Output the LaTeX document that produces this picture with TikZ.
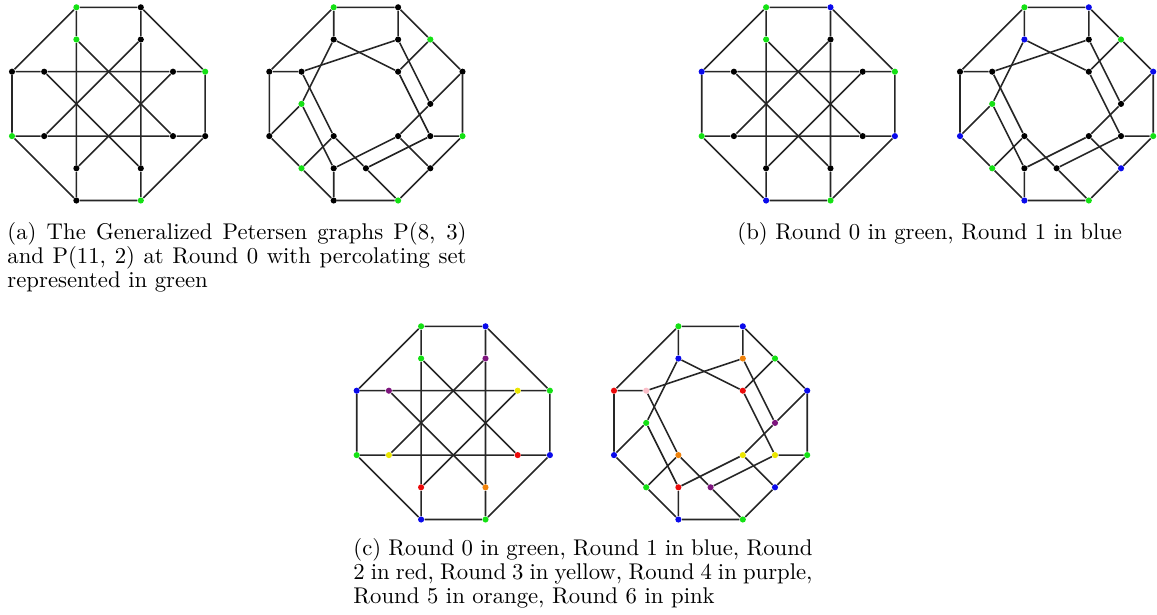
\documentclass[tikz,border=0pt]{standalone}
\usepackage{tikz}
\usepackage{amsmath,amssymb}

\definecolor{rgreen}{RGB}{20,225,20}
\definecolor{rblue}{RGB}{10,10,235}
\definecolor{rred}{RGB}{235,10,10}
\definecolor{ryellow}{RGB}{235,230,0}
\definecolor{rpurple}{RGB}{125,20,125}
\definecolor{rorange}{RGB}{240,130,10}
\definecolor{rpink}{RGB}{250,190,200}

\begin{document}
\begin{tikzpicture}[x=0.44pt,y=0.44pt,yscale=-1,xscale=1,
  vtx/.style={circle,fill=#1,inner sep=0pt,minimum size=2.7pt},
  edge/.style={draw=black!85,line width=0.7pt},
  captext/.style={anchor=base west,inner sep=0pt,font=\fontsize{10}{10.7}\selectfont}]
\useasboundingbox (0,0) rectangle (1157,615);

%P(8,3) at Round 0
\foreach \k/\x/\y/\c in {0/2/0/rgreen,1/4/0/black,2/6/2/rgreen,3/6/4/black,4/4/6/rgreen,5/2/6/black,6/0/4/rgreen,7/0/2/black}
  \node[vtx=\c] (pa-o\k) at ({12+32.2*\x},{7.3+32.2*\y}) {};
\foreach \k/\x/\y/\c in {0/2/1/rgreen,1/4/1/black,2/5/2/black,3/5/4/black,4/4/5/black,5/2/5/black,6/1/4/black,7/1/2/black}
  \node[vtx=\c] (pa-i\k) at ({12+32.2*\x},{7.3+32.2*\y}) {};
%P(11,2) at Round 0
\foreach \k/\x/\y/\c in {0/2/0/rgreen,1/4/0/black,2/5/1/rgreen,3/6/2/black,4/6/4/rgreen,5/5/5/black,6/4/6/rgreen,7/2/6/black,8/1/5/rgreen,9/0/4/black,10/0/2/black}
  \node[vtx=\c] (qa-o\k) at ({269.3+32.2*\x},{7.3+32.2*\y}) {};
\foreach \k/\x/\y/\c in {0/2/1/black,1/4/1/black,2/4/2/black,3/5/3/black,4/5/4/black,5/4/4/black,6/3/5/black,7/2/5/black,8/2/4/black,9/1/3/rgreen,10/1/2/black}
  \node[vtx=\c] (qa-i\k) at ({269.3+32.2*\x},{7.3+32.2*\y}) {};

%P(8,3) after Round 1
\foreach \k/\x/\y/\c in {0/2/0/rgreen,1/4/0/rblue,2/6/2/rgreen,3/6/4/rblue,4/4/6/rgreen,5/2/6/rblue,6/0/4/rgreen,7/0/2/rblue}
  \node[vtx=\c] (pb-o\k) at ({701.7+32.2*\x},{7.3+32.2*\y}) {};
\foreach \k/\x/\y/\c in {0/2/1/rgreen,1/4/1/black,2/5/2/black,3/5/4/black,4/4/5/black,5/2/5/black,6/1/4/black,7/1/2/black}
  \node[vtx=\c] (pb-i\k) at ({701.7+32.2*\x},{7.3+32.2*\y}) {};
%P(11,2) after Round 1
\foreach \k/\x/\y/\c in {0/2/0/rgreen,1/4/0/rblue,2/5/1/rgreen,3/6/2/rblue,4/6/4/rgreen,5/5/5/rblue,6/4/6/rgreen,7/2/6/rblue,8/1/5/rgreen,9/0/4/rblue,10/0/2/black}
  \node[vtx=\c] (qb-o\k) at ({960+32.2*\x},{7.3+32.2*\y}) {};
\foreach \k/\x/\y/\c in {0/2/1/rblue,1/4/1/black,2/4/2/black,3/5/3/black,4/5/4/black,5/4/4/black,6/3/5/black,7/2/5/black,8/2/4/black,9/1/3/rgreen,10/1/2/black}
  \node[vtx=\c] (qb-i\k) at ({960+32.2*\x},{7.3+32.2*\y}) {};

%P(8,3) all rounds
\foreach \k/\x/\y/\c in {0/2/0/rgreen,1/4/0/rblue,2/6/2/rgreen,3/6/4/rblue,4/4/6/rgreen,5/2/6/rblue,6/0/4/rgreen,7/0/2/rblue}
  \node[vtx=\c] (pc-o\k) at ({356.7+32.2*\x},{326.3+32.2*\y}) {};
\foreach \k/\x/\y/\c in {0/2/1/rgreen,1/4/1/rpurple,2/5/2/ryellow,3/5/4/rred,4/4/5/rorange,5/2/5/rred,6/1/4/ryellow,7/1/2/rpurple}
  \node[vtx=\c] (pc-i\k) at ({356.7+32.2*\x},{326.3+32.2*\y}) {};
%P(11,2) all rounds
\foreach \k/\x/\y/\c in {0/2/0/rgreen,1/4/0/rblue,2/5/1/rgreen,3/6/2/rblue,4/6/4/rgreen,5/5/5/rblue,6/4/6/rgreen,7/2/6/rblue,8/1/5/rgreen,9/0/4/rblue,10/0/2/rred}
  \node[vtx=\c] (qc-o\k) at ({614+32.2*\x},{326.3+32.2*\y}) {};
\foreach \k/\x/\y/\c in {0/2/1/rblue,1/4/1/rorange,2/4/2/rred,3/5/3/rpurple,4/5/4/ryellow,5/4/4/ryellow,6/3/5/rpurple,7/2/5/rred,8/2/4/rorange,9/1/3/rgreen,10/1/2/rpink}
  \node[vtx=\c] (qc-i\k) at ({614+32.2*\x},{326.3+32.2*\y}) {};

%Straight Lines
\foreach \g in {pa,pb,pc}
  \foreach \k in {0,...,7}{
    \pgfmathtruncatemacro\nx{mod(\k+1,8)}
    \pgfmathtruncatemacro\mx{mod(\k+3,8)}
    \draw[edge] (\g-o\k) -- (\g-o\nx) (\g-o\k) -- (\g-i\k) (\g-i\k) -- (\g-i\mx);
  }
\foreach \g in {qa,qb,qc}
  \foreach \k in {0,...,10}{
    \pgfmathtruncatemacro\nx{mod(\k+1,11)}
    \pgfmathtruncatemacro\mx{mod(\k+2,11)}
    \draw[edge] (\g-o\k) -- (\g-o\nx) (\g-o\k) -- (\g-i\k) (\g-i\k) -- (\g-i\mx);
  }

% Text Node
\node[captext,text width=202pt,align=justify] (capa) at (7,239) {(a) The Generalized Petersen graphs P(8, 3)\linebreak and P(11, 2) at Round 0 with percolating set\linebreak represented in green};
% Text Node
\node[captext] (capb) at (737,239) {(b) Round 0 in green, Round 1 in blue};
% Text Node
\node[captext,text width=202pt,align=justify] (capc) at (353,555) {(c) Round 0 in green, Round 1 in blue, Round\linebreak 2 in red, Round 3 in yellow, Round 4 in purple,\linebreak Round 5 in orange, Round 6 in pink};

\end{tikzpicture}
\end{document}
